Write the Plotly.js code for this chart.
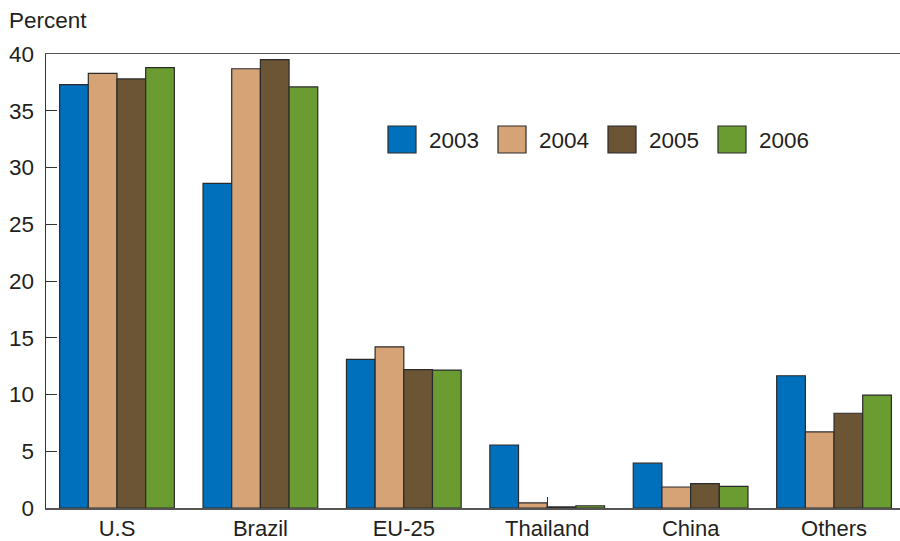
<!DOCTYPE html>
<html>
<head>
<meta charset="utf-8">
<script src="https://cdn.plot.ly/plotly-3.0.1.min.js"></script>
<style>html,body{margin:0;padding:0;background:#fff;}#chart{width:900px;height:541px;}</style>
</head>
<body>
<div id="chart"></div>
<script>
const categories = ["U.S", "Brazil", "EU-25", "Thailand", "China", "Others"];
const years = ["2003", "2004", "2005", "2006"];
const values2003 = [37.3, 28.6, 13.1, 5.55, 3.95, 11.65];
const values2004 = [38.3, 38.7, 14.2, 0.45, 1.85, 6.7];
const values2005 = [37.8, 39.5, 12.2, 0.1, 2.15, 8.35];
const values2006 = [38.8, 37.1, 12.15, 0.2, 1.9, 9.95];
const seriesValues = [values2003, values2004, values2005, values2006];
const colors = ["#0070bd", "#d6a376", "#6b5535", "#6a9c32"];
const yTicks = [0, 5, 10, 15, 20, 25, 30, 35, 40];

const W = 900, H = 541;
const M = {l: 46, r: 0, t: 54, b: 33};
const pw = W - M.l - M.r, ph = H - M.t - M.b;
const fx = px => (px - M.l) / pw;
const fy = py => (H - M.b - py) / ph;
const FONT = "Liberation Sans, Arial, Helvetica, sans-serif";
const TXT = "#231f20";
const FS = 22.5;

const traces = years.map((yr, i) => ({
  type: "bar",
  name: yr,
  x: categories,
  y: seriesValues[i],
  marker: {color: colors[i], line: {color: "#2b2b2b", width: 1.2}},
  showlegend: false,
  hoverinfo: "x+y+name"
}));

const shapes = [];
const annotations = [{
  text: "Percent", xref: "paper", yref: "paper",
  x: fx(7), y: fy(21), xanchor: "left", yanchor: "middle",
  showarrow: false, font: {family: FONT, size: FS, color: TXT}
}];
years.forEach((yr, i) => {
  const x0 = 388 + i * 110;
  shapes.push({
    type: "rect", xref: "paper", yref: "paper",
    x0: fx(x0), x1: fx(x0 + 28), y0: fy(153), y1: fy(126),
    fillcolor: colors[i], line: {color: "#2b2b2b", width: 1.2}
  });
  annotations.push({
    text: yr, xref: "paper", yref: "paper",
    x: fx(x0 + 39), y: fy(140), xanchor: "left", yanchor: "middle",
    showarrow: false, font: {family: FONT, size: FS, color: TXT}
  });
});

const layout = {
  width: W, height: H,
  margin: M,
  paper_bgcolor: "#fff", plot_bgcolor: "#fff",
  barmode: "group", bargap: 0.2, bargroupgap: 0,
  font: {family: FONT, size: FS, color: TXT},
  xaxis: {
    type: "category", range: [-0.495, 5.46],
    showline: true, linecolor: "#555", linewidth: 1.5, mirror: true,
    ticks: "inside", ticklen: 11, tickcolor: "#333", tickwidth: 1,
    layer: "below traces", showgrid: false, zeroline: false,
    tickfont: {family: FONT, size: 22, color: TXT}, ticklabelstandoff: 0
  },
  yaxis: {
    range: [0, 40], tickvals: yTicks, ticktext: yTicks.map(String),
    showline: true, linecolor: "#333", linewidth: 1.5,
    ticks: "inside", ticklen: 11, tickcolor: "#333", tickwidth: 1,
    showgrid: false, zeroline: false,
    tickfont: {family: FONT, size: FS, color: TXT}, ticklabelstandoff: 6
  },
  shapes: shapes,
  annotations: annotations,
  showlegend: false
};

Plotly.newPlot("chart", traces, layout, {displayModeBar: false, staticPlot: true});
</script>
</body>
</html>
